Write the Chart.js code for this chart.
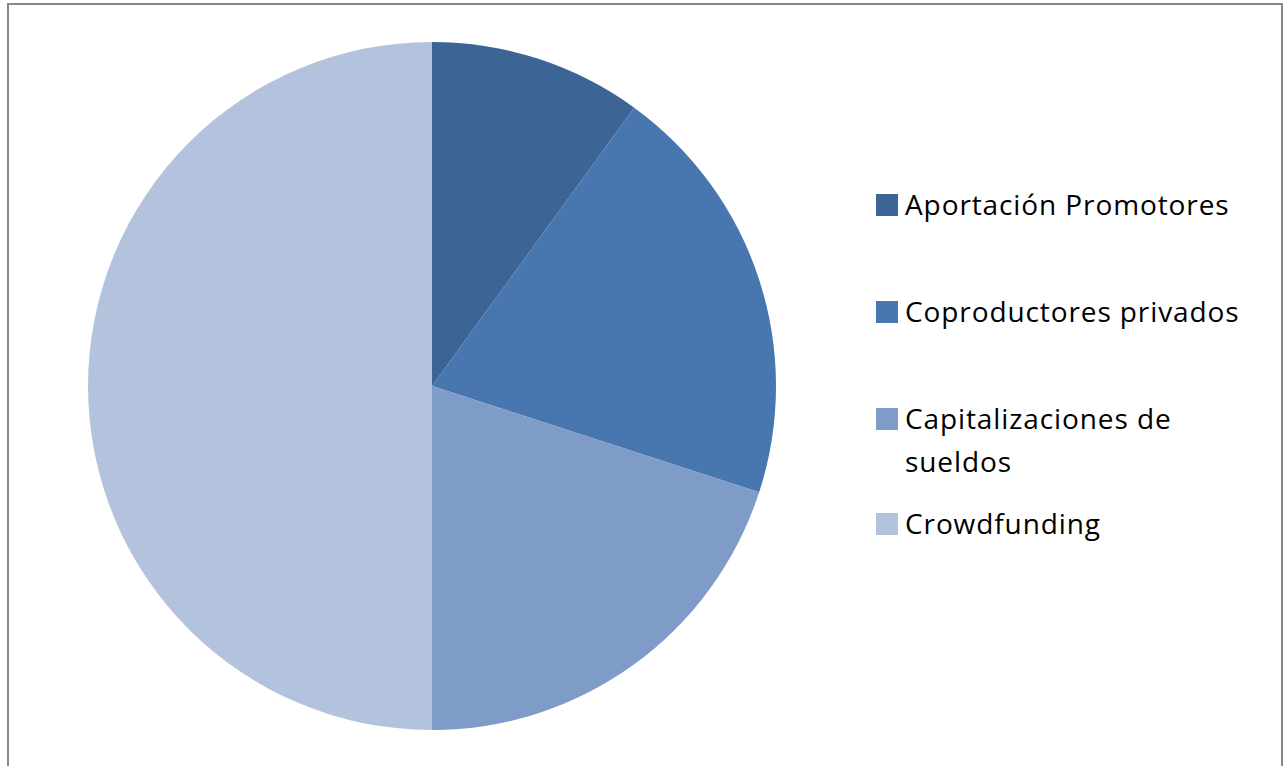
<!DOCTYPE html>
<html>
<head>
<meta charset="utf-8">
<script src="https://cdn.jsdelivr.net/npm/chart.js@4"></script>
<style>
    html, body { margin: 0; padding: 0; background: #fff; }
    body { width: 1288px; height: 766px; position: relative; overflow: hidden; }
    #marco {
        position: absolute; left: 7px; top: 3px; width: 1276px; height: 780px;
        border: 2px solid #878787; box-sizing: border-box;
    }
    #pieWrap { position: absolute; left: 87px; top: 41px; width: 690px; height: 690px; }
    #leyenda {
        position: absolute; left: 876px; top: 183px; width: 400px;
        font-family: "Open Sans", "Lato", sans-serif; font-size: 28px; color: #000;
    }
    .item { position: absolute; left: 0; display: flex; align-items: flex-start; line-height: 43px; }
    .caja { width: 22px; height: 22px; margin-top: 11px; margin-right: 7px; flex: none; }
    .texto { width: 345px; letter-spacing: 0.9px; }
</style>
</head>
<body>
<div id="marco"></div>
<div id="pieWrap"><canvas id="grafico"></canvas></div>
<div id="leyenda"></div>
<script>
const categorias = ["Aportación Promotores", "Coproductores privados", "Capitalizaciones de sueldos", "Crowdfunding"];
const valores = [10, 20, 20, 50];
const colores = ["#3c6595", "#4877b0", "#7f9cc8", "#b3c3de"];
const posLeyenda = [0, 107, 214, 319];

const ctx = document.getElementById("grafico").getContext("2d");

const chart = new Chart(ctx, {
    type: "pie",
    data: {
        labels: categorias,
        datasets: [{
            data: valores,
            backgroundColor: colores,
            borderWidth: 0
        }]
    },
    options: {
        responsive: true,
        maintainAspectRatio: false,
        animation: false,
        layout: { padding: 1 },
        plugins: {
            legend: { display: false },
            tooltip: { enabled: false }
        }
    }
});

// leyenda a la derecha
const leyenda = document.getElementById("leyenda");
categorias.forEach((cat, i) => {
    const item = document.createElement("div");
    item.className = "item";
    item.style.top = posLeyenda[i] + "px";
    item.innerHTML = `<span class="caja" style="background:${colores[i]}"></span><span class="texto">${cat}</span>`;
    leyenda.appendChild(item);
});
</script>
</body>
</html>
